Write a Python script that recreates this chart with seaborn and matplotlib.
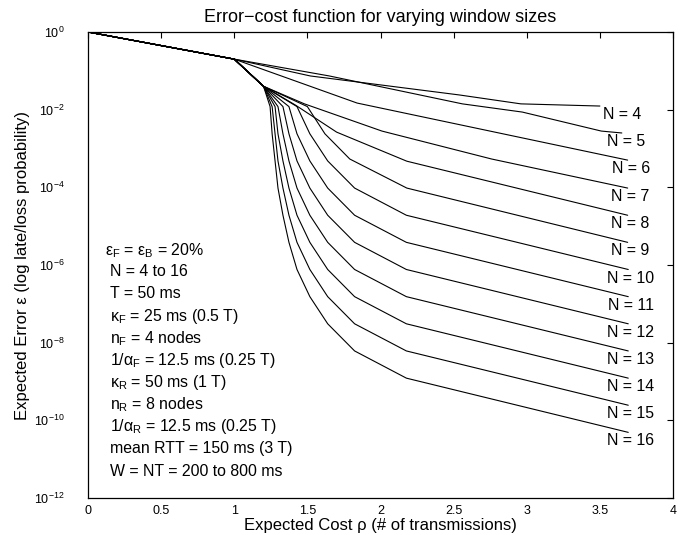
import numpy as np
import pandas as pd
import matplotlib
matplotlib.use("Agg")
import matplotlib.pyplot as plt
import seaborn as sns

# ---------------- data ----------------
window_sizes = [4, 5, 6, 7, 8, 9, 10, 11, 12, 13, 14, 15, 16]

cost_n4 = [0.0, 1.0, 1.52, 2.54, 2.96, 3.50]
err_n4 = [1.0, 2.0e-1, 7.38e-2, 2.39e-2, 1.41e-2, 1.24e-2]

cost_n5 = [0.0, 1.0, 1.65, 2.56, 2.97, 3.51, 3.65]
err_n5 = [1.0, 2.0e-1, 7.38e-2, 1.41e-2, 8.67e-3, 2.81e-3, 2.51e-3]

cost_n6 = [0.0, 1.0, 1.84, 3.69]
err_n6 = [1.0, 2.0e-1, 1.48e-2, 5.02e-4]

cost_n7 = [0.0, 1.0, 1.2, 1.48, 2.01, 2.76, 3.69]
err_n7 = [1.0, 2.0e-1, 4.0e-2, 1.41e-2, 2.81e-3, 5.36e-4, 9.57e-5]

cost_n8 = [0.0, 1.0, 1.2, 1.42, 1.70, 2.18, 3.69]
err_n8 = [1.0, 2.0e-1, 4.0e-2, 1.30e-2, 2.64e-3, 4.71e-4, 1.91e-5]

cost_n9 = [0.0, 1.0, 1.2, 1.50, 1.62, 1.79, 2.18, 3.69]
err_n9 = [1.0, 2.0e-1, 4.0e-2, 1.2e-2, 2.39e-3, 5.36e-4, 9.57e-5, 3.83e-6]

cost_n10 = [0.0, 1.0, 1.2, 1.429, 1.517, 1.639, 1.823, 2.177, 3.694]
err_n10 = [1.0, 2.0e-1, 4.0e-2, 1.2e-2, 2.39e-3, 4.78e-4, 9.57e-5, 1.91e-5, 7.66e-7]

cost_n11 = [0.0, 1.0, 1.2, 1.374, 1.429, 1.517, 1.639, 1.823, 2.177, 3.694]
err_n11 = [1.0, 2.0e-1, 4.0e-2, 1.2e-2, 2.39e-3, 4.78e-4, 9.57e-5, 1.91e-5,
           3.83e-6, 1.53e-7]

cost_n12 = [0.0, 1.0, 1.2, 1.333, 1.374, 1.429, 1.517, 1.639, 1.823, 2.177, 3.694]
err_n12 = [1.0, 2.0e-1, 4.0e-2, 1.2e-2, 2.39e-3, 4.78e-4, 9.57e-5, 1.91e-5,
           3.83e-6, 7.66e-7, 3.06e-8]

cost_n13 = [0.0, 1.0, 1.2, 1.299, 1.333, 1.374, 1.429, 1.517, 1.639, 1.823,
            2.177, 3.694]
err_n13 = [1.0, 2.0e-1, 4.0e-2, 1.2e-2, 2.39e-3, 4.78e-4, 9.57e-5, 1.91e-5,
           3.83e-6, 7.66e-7, 1.53e-7, 6.12e-9]

cost_n14 = [0.0, 1.0, 1.2, 1.279, 1.299, 1.333, 1.374, 1.429, 1.517, 1.639,
            1.823, 2.177, 3.694]
err_n14 = [1.0, 2.0e-1, 4.0e-2, 1.2e-2, 2.39e-3, 4.78e-4, 9.57e-5, 1.91e-5,
           3.83e-6, 7.66e-7, 1.53e-7, 3.06e-8, 1.22e-9]

cost_n15 = [0.0, 1.0, 1.2, 1.259, 1.279, 1.299, 1.333, 1.374, 1.429, 1.517,
            1.639, 1.823, 2.177, 3.694]
err_n15 = [1.0, 2.0e-1, 4.0e-2, 1.2e-2, 2.39e-3, 4.78e-4, 9.57e-5, 1.91e-5,
           3.83e-6, 7.66e-7, 1.53e-7, 3.06e-8, 6.12e-9, 2.45e-10]

cost_n16 = [0.0, 1.0, 1.2, 1.245, 1.259, 1.279, 1.299, 1.333, 1.374, 1.429,
            1.517, 1.639, 1.823, 2.177, 3.694]
err_n16 = [1.0, 2.0e-1, 4.0e-2, 1.2e-2, 2.39e-3, 4.78e-4, 9.57e-5, 1.91e-5,
           3.83e-6, 7.66e-7, 1.53e-7, 3.06e-8, 6.12e-9, 1.22e-9, 4.90e-11]

label_x = [3.65, 3.68, 3.71, 3.71, 3.71, 3.71, 3.71, 3.71, 3.71, 3.71, 3.71, 3.71, 3.71]

x_ticks = [0, 0.5, 1, 1.5, 2, 2.5, 3, 3.5, 4]
x_tick_labels = ["0", "0.5", "1", "1.5", "2", "2.5", "3", "3.5", "4"]
y_ticks = [1e0, 1e-2, 1e-4, 1e-6, 1e-8, 1e-10, 1e-12]
y_tick_labels = [r"$\mathregular{10^{0}}$", r"$\mathregular{10^{-2}}$",
                 r"$\mathregular{10^{-4}}$", r"$\mathregular{10^{-6}}$",
                 r"$\mathregular{10^{-8}}$", r"$\mathregular{10^{-10}}$",
                 r"$\mathregular{10^{-12}}$"]

param_lines = [
    r"ε$_\mathregular{F}$ = ε$_\mathregular{B}$ = 20%",
    "N = 4 to 16",
    "T = 50 ms",
    r"κ$_\mathregular{F}$ = 25 ms (0.5 T)",
    r"n$_\mathregular{F}$ = 4 nodes",
    r"1/α$_\mathregular{F}$ = 12.5 ms (0.25 T)",
    r"κ$_\mathregular{R}$ = 50 ms (1 T)",
    r"n$_\mathregular{R}$ = 8 nodes",
    r"1/α$_\mathregular{R}$ = 12.5 ms (0.25 T)",
    "mean RTT = 150 ms (3 T)",
    "W = NT = 200 to 800 ms",
]

curves = [
    (4, cost_n4, err_n4), (5, cost_n5, err_n5), (6, cost_n6, err_n6),
    (7, cost_n7, err_n7), (8, cost_n8, err_n8), (9, cost_n9, err_n9),
    (10, cost_n10, err_n10), (11, cost_n11, err_n11), (12, cost_n12, err_n12),
    (13, cost_n13, err_n13), (14, cost_n14, err_n14), (15, cost_n15, err_n15),
    (16, cost_n16, err_n16),
]

rows = []
for n, cs, es in curves:
    for i, (c, e) in enumerate(zip(cs, es)):
        rows.append({"N": n, "order": i, "cost": c, "error": e})
df = pd.DataFrame(rows)

# ---------------- style ----------------
sns.set_style("white")
plt.rcParams["font.family"] = ["Liberation Sans", "DejaVu Sans"]
plt.rcParams["mathtext.fontset"] = "custom"
plt.rcParams["mathtext.rm"] = "Liberation Sans"
plt.rcParams["mathtext.it"] = "Liberation Sans:italic"
plt.rcParams["axes.unicode_minus"] = True
for key in ["text.color", "axes.labelcolor", "xtick.color", "ytick.color",
            "axes.edgecolor"]:
    plt.rcParams[key] = "black"

fig = plt.figure(figsize=(6.8, 5.35), dpi=100)
ax = fig.add_axes([88 / 680, 1 - 498 / 535, (673 - 88) / 680, (498 - 32) / 535])

sns.lineplot(data=df, x="cost", y="error", hue="N", units="N", estimator=None,
             sort=False, palette=["black"] * len(window_sizes), legend=False,
             linewidth=0.8, ax=ax)

ax.set_yscale("log")
ax.set_xlim(0, 4)
ax.set_ylim(1e-12, 1)
ax.set_xticks(x_ticks)
ax.set_xticklabels(x_tick_labels, fontsize=9)
ax.set_yticks(y_ticks)
ax.set_yticklabels(y_tick_labels, fontsize=9)
ax.minorticks_off()
ax.tick_params(direction="in", top=True, right=True, length=4, width=0.8,
               colors="black")
ax.tick_params(axis="x", pad=5)
ax.tick_params(axis="y", pad=17)
for s in ax.spines.values():
    s.set_color("black")
    s.set_linewidth(0.9)

ax.set_title("Error\u2212cost function for varying window sizes", fontsize=13,
             pad=7, color="black")
ax.set_xlabel("Expected Cost ρ (# of transmissions)", fontsize=12, labelpad=1)
ax.set_ylabel("Expected Error ε (log late/loss probability)", fontsize=12,
              labelpad=3)

for (n, cs, es), lx in zip(curves, label_x):
    ax.text(lx, es[-1] * 10 ** (-0.22), f"N = {n}", fontsize=11.4,
            ha="center", va="center")

line_y = [0.521, 0.476, 0.429, 0.380, 0.333, 0.285, 0.238, 0.191, 0.144, 0.097, 0.047]
for k, (txt, yy) in enumerate(zip(param_lines, line_y)):
    xx = 0.029 if k == 0 else 0.0376
    ax.text(xx, yy, txt, transform=ax.transAxes, fontsize=11.4,
            ha="left", va="baseline")

fig.savefig("out.png", dpi=100, facecolor="white")
